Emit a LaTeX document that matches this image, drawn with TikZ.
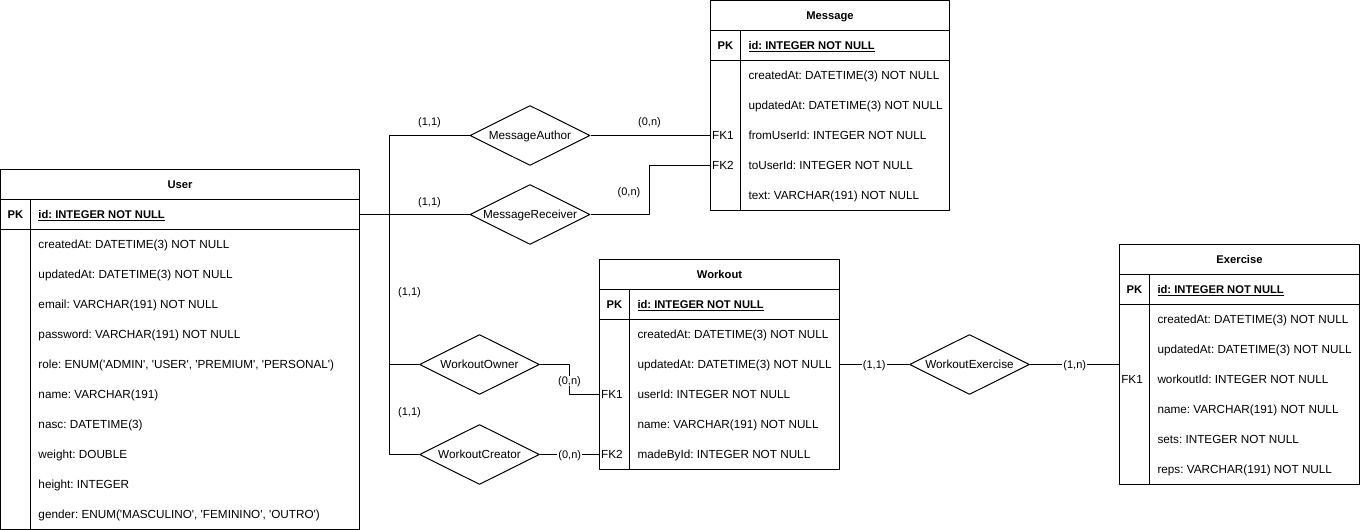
\documentclass[tikz,border=0pt]{standalone}
\usepackage{fontspec}
\setmainfont{Liberation Sans}[Ligatures=TeXOff]
\usetikzlibrary{shapes.geometric}
\frenchspacing
\newcommand{\erfs}{\fontsize{8.8}{11}\selectfont}
\newcommand{\erbf}{\fontsize{8.4}{11}\selectfont\bfseries}
\tikzset{
  hdr/.style={font=\erbf, text height=6.3pt, text depth=0pt, inner sep=0pt},
  key/.style={text height=6.3pt, text depth=0pt, inner sep=0pt},
  attr/.style={anchor=west, text height=6.3pt, text depth=0pt, inner sep=0pt},
  rel/.style={draw, diamond, aspect=2, minimum width=90pt, minimum height=45pt, inner sep=0pt, text height=6.3pt, text depth=0pt},
  card/.style={font=\fontsize{8.25}{10}\selectfont, text height=5.9pt, text depth=0pt, inner sep=1pt},
  cardbg/.style={card, fill=white}
}
\begin{document}
\begin{tikzpicture}[x=0.75pt, y=-0.75pt, font=\erfs, line width=0.75pt, line join=round]
	\useasboundingbox (0,0) rectangle (1360,530);
	% tabela: nome, esquerda, topo, largura, linhas, titulo
	\def\ertable#1#2#3#4#5#6{%
		\coordinate (#1-l) at (#2,#3);
		\coordinate (#1-r) at (#2+#4,#3);
		\draw (#2,#3) rectangle (#2+#4,#3+60+30*#5);
		\draw (#2,#3+30) -- (#2+#4,#3+30) (#2,#3+60) -- (#2+#4,#3+60);
		\draw (#2+30,#3+30) -- (#2+30,#3+60+30*#5);
		\node[hdr] (#1) at (#2+#4/2,#3+15) {#6};
		\node[key, font=\erbf] (#1-pk) at (#2+15,#3+45) {PK};
	}
	% User
	\ertable{user}{0.5}{169.5}{359}{10}{User}
	\node[attr, font=\erbf] (user-id) at (38,214.5) {\underline{id: INTEGER NOT NULL}};
	\foreach \t [count=\i] in {{createdAt: DATETIME(3) NOT NULL}, {updatedAt: DATETIME(3) NOT NULL},
		{email: VARCHAR(191) NOT NULL}, {password: VARCHAR(191) NOT NULL},
		{role: ENUM('ADMIN', 'USER', 'PREMIUM', 'PERSONAL')}, {name: VARCHAR(191)},
		{nasc: DATETIME(3)}, {weight: DOUBLE}, {height: INTEGER},
		{gender: ENUM('MASCULINO', 'FEMININO', 'OUTRO')}}
		\node[attr] (user-\i) at (38,214.5+30*\i) {\t};
	% Message
	\ertable{msg}{710.5}{0.5}{239}{5}{Message}
	\node[attr, font=\erbf] (msg-id) at (748,45.5) {\underline{id: INTEGER NOT NULL}};
	\foreach \t [count=\i] in {{createdAt: DATETIME(3) NOT NULL}, {updatedAt: DATETIME(3) NOT NULL},
		{fromUserId: INTEGER NOT NULL}, {toUserId: INTEGER NOT NULL}, {text: VARCHAR(191) NOT NULL}}
		\node[attr] (msg-\i) at (748,45.5+30*\i) {\t};
	\node[key] (msg-fk1) at (723,135.5) {FK1};
	\node[key] (msg-fk2) at (723,165.5) {FK2};
	% Workout
	\ertable{wk}{599.5}{259.5}{240}{5}{Workout}
	\node[attr, font=\erbf] (wk-id) at (637,304.5) {\underline{id: INTEGER NOT NULL}};
	\foreach \t [count=\i] in {{createdAt: DATETIME(3) NOT NULL}, {updatedAt: DATETIME(3) NOT NULL},
		{userId: INTEGER NOT NULL}, {name: VARCHAR(191) NOT NULL}, {madeById: INTEGER NOT NULL}}
		\node[attr] (wk-\i) at (637,304.5+30*\i) {\t};
	\node[key] (wk-fk1) at (612,394.5) {FK1};
	\node[key] (wk-fk2) at (612,454.5) {FK2};
	% Exercise
	\ertable{ex}{1119.5}{244.5}{240}{6}{Exercise}
	\node[attr, font=\erbf] (ex-id) at (1157,289.5) {\underline{id: INTEGER NOT NULL}};
	\foreach \t [count=\i] in {{createdAt: DATETIME(3) NOT NULL}, {updatedAt: DATETIME(3) NOT NULL},
		{workoutId: INTEGER NOT NULL}, {name: VARCHAR(191) NOT NULL}, {sets: INTEGER NOT NULL},
		{reps: VARCHAR(191) NOT NULL}}
		\node[attr] (ex-\i) at (1157,289.5+30*\i) {\t};
	\node[key] (ex-fk1) at (1132,379.5) {FK1};
	% relacionamentos
	\node[rel] (auth) at (530,135.5) {MessageAuthor};
	\node[rel] (rcv) at (530,214.5) {MessageReceiver};
	\node[rel] (wown) at (479.5,364.5) {WorkoutOwner};
	\node[rel] (wcre) at (479.5,454.5) {WorkoutCreator};
	\node[rel] (wex) at (969.5,364.5) {WorkoutExercise};
	% ligacoes
	\coordinate (bend) at (389.5,214.5);
	\coordinate (rbend) at (649.5,165.5);
	\coordinate (obend) at (569.5,394.5);
	\draw (user-r |- user-id) -- (rcv.west);
	\draw (auth.west) -| (bend) |- (wcre.west);
	\draw (bend) |- (wown.west);
	\draw (auth.east) -- (msg-l |- msg-3);
	\draw (rcv.east) -| (rbend) -- (msg-l |- msg-4);
	\draw (wown.east) -| (obend) -- (wk-l |- wk-3);
	\draw (wcre.east) -- node[cardbg] {(0,n)} (wk-l |- wk-5);
	\draw (wk-r |- wk-2) -- node[cardbg] {(1,1)} (wex.west);
	\draw (wex.east) -- node[cardbg] {(1,n)} (wex.east -| ex-l);
	% cardinalidades
	\node[card] at (429.5,122) {(1,1)};
	\node[card] at (649.5,122) {(0,n)};
	\node[card] at (429.5,202) {(1,1)};
	\node[card] at (629,192) {(0,n)};
	\node[card] at (409.5,292) {(1,1)};
	\node[card] at (409.5,412) {(1,1)};
	\node[cardbg] at (569.5,381) {(0,n)};
\end{tikzpicture}
\end{document}
